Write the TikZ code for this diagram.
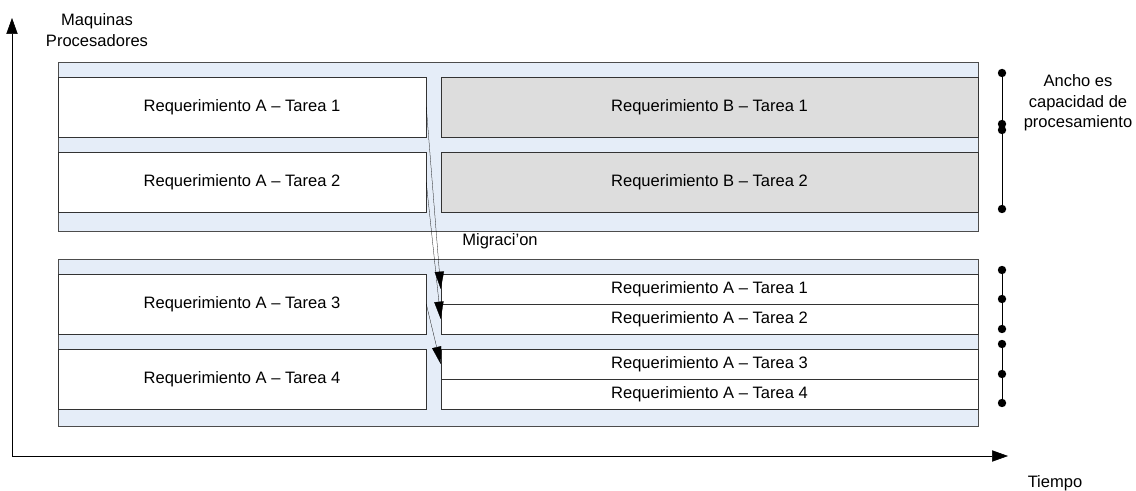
\documentclass[tikz,border=0pt]{standalone}
\usepackage{fontspec}
\setmainfont{Liberation Sans}
\usetikzlibrary{arrows.meta}
\definecolor{panelblue}{RGB}{229,237,248}
\definecolor{taskgray}{RGB}{221,221,221}
\newcommand{\lbl}{\fontsize{12.4}{15.5}\selectfont}
\tikzset{
  panel/.style={draw=black!70,fill=panelblue},
  task/.style={draw=black!80,fill=white,minimum width=368*0.75pt,minimum height=60*0.75pt,inner sep=0pt,font=\lbl},
  busy/.style={task,fill=taskgray,minimum width=537*0.75pt},
  slot/.style={task,minimum width=537*0.75pt,minimum height=30*0.75pt},
  dot/.style={circle,fill=black,inner sep=0pt,minimum size=6.3pt},
}
\begin{document}
\begin{tikzpicture}[x=0.75pt,y=-0.75pt,>={Triangle[length=13pt,width=7pt]}]
  \useasboundingbox (0,0) rectangle (1136,491);
  \draw[thin,-{Triangle[length=12pt,width=8.5pt]}] (12,456) -- (12,18);
  \draw[thin,-{Triangle[length=12pt,width=8.5pt]}] (12,456) -- (1008,456);
  \node[align=center,font=\lbl] (yl) at (97,30) {Maquinas\\Procesadores};
  \node[font=\lbl] (xl) at (1055,483) {Tiempo};
  \draw[panel] (58,62) rectangle (978,231);
  \draw[panel] (58,259) rectangle (978,426);
  \node[task] (a1) at (242,107) {Requerimiento A -- Tarea 1};
  \node[task] (a2) at (242,182.5) {Requerimiento A -- Tarea 2};
  \node[busy] (b1) at (709.5,107) {Requerimiento B -- Tarea 1};
  \node[busy] (b2) at (709.5,182.5) {Requerimiento B -- Tarea 2};
  \node[task] (a3) at (242,304) {Requerimiento A -- Tarea 3};
  \node[task] (a4) at (242,379) {Requerimiento A -- Tarea 4};
  \node[slot] (m1) at (709.5,289) {Requerimiento A -- Tarea 1};
  \node[slot] (m2) at (709.5,319) {Requerimiento A -- Tarea 2};
  \node[slot] (m3) at (709.5,364) {Requerimiento A -- Tarea 3};
  \node[slot] (m4) at (709.5,394) {Requerimiento A -- Tarea 4};
  \node[font=\lbl] (mig) at (500,241) {Migraci'on};
  \draw[very thin,->] (a1.east) -- (m1.west);
  \draw[very thin,->] (a2.east) -- (m2.west);
  \draw[very thin,->] (a3.east) -- (m3.west);
  \node[dot] (d1) at (1002,73) {};
  \node[dot] (d2) at (1002,124) {};
  \node[dot] (d3) at (1002,130) {};
  \node[dot] (d4) at (1002,209) {};
  \node[dot] (d5) at (1002,270) {};
  \node[dot] (d6) at (1002,299) {};
  \node[dot] (d7) at (1002,329) {};
  \node[dot] (d8) at (1002,344) {};
  \node[dot] (d9) at (1002,374) {};
  \node[dot] (d10) at (1002,403) {};
  \draw (d1) -- (d2);
  \draw (d3) -- (d4);
  \draw (d5) -- (d6) -- (d7);
  \draw (d8) -- (d9) -- (d10);
  \node[align=center,font=\lbl] (ancho) at (1078,103) {Ancho es\\capacidad de\\procesamiento};
\end{tikzpicture}
\end{document}
